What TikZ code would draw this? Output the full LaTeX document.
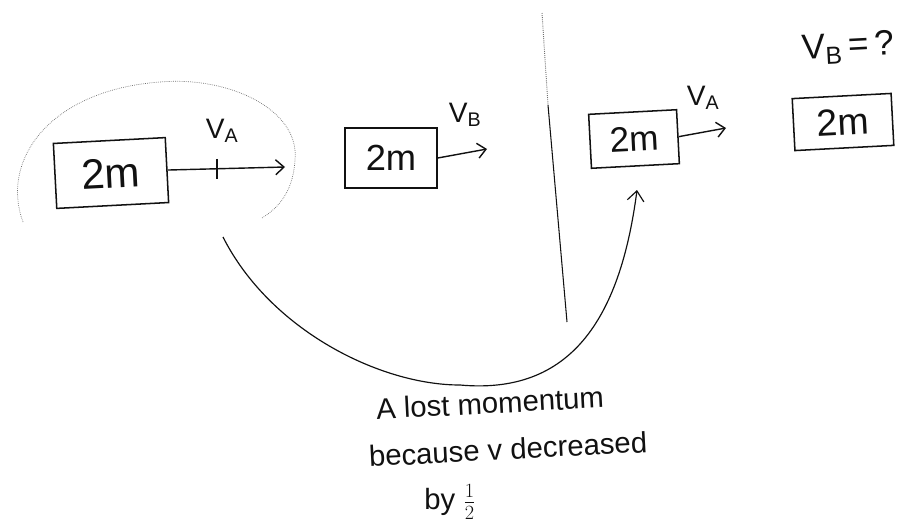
\documentclass[tikz,border=0pt]{standalone}
\usepackage{fontspec}
\setmainfont{Liberation Sans}
\usepackage{xcolor}
\usetikzlibrary{positioning,arrows.meta,calc}
\definecolor{InkDark}{HTML}{111111}
\definecolor{PencilGray}{HTML}{6E6E6E}

\tikzset{
  massbox/.style={draw=InkDark, line width=1.3pt, inner sep=0pt, text=InkDark},
  vel/.style={draw=InkDark, line width=1.2pt, -{Straight Barb[length=2.5mm,width=4.5mm]}},
  veltag/.style={text=InkDark, inner sep=1pt, font=\fontsize{24}{26}\selectfont},
  note/.style={text=InkDark, inner sep=1pt, font=\fontsize{25}{27}\selectfont},
}

\begin{document}
\begin{tikzpicture}[x=0.03cm, y=-0.03cm]
  \useasboundingbox (0,0) rectangle (907,529);

  % before the collision
  \node[massbox, rotate=3, minimum width=3.36cm, minimum height=1.95cm,
        font=\fontsize{36}{40}\selectfont] (boxA) at (111,173) {2m};
  \coordinate (endA) at (285,167);
  \draw[vel] (boxA.east) -- coordinate[pos=0.42] (tickA) (endA);
  \draw[InkDark, line width=1.2pt] ($(tickA)+(0,-10)$) -- ($(tickA)+(0,10)$);
  \node[veltag] (vA) at (222,131) {V\textsubscript{A}};
  \draw[PencilGray, densely dotted, line width=0.6pt]
    (23,222) .. controls (0,160) and (50,90) .. (160,82)
    .. controls (230,76) and (300,110) .. (295,160)
    .. controls (293,195) and (275,210) .. (262,218);

  \node[massbox, minimum width=2.76cm, minimum height=1.8cm,
        font=\fontsize{31}{34}\selectfont] (boxB) at (391,158) {2m};
  \coordinate (endB) at (487,149);
  \draw[vel] (boxB.east) -- (endB);
  \node[veltag] (vB) at (465,115) {V\textsubscript{B}};

  % divider
  \coordinate (divTop) at (542,13);
  \coordinate (divMid) at (548,105);
  \coordinate (divBot) at (567,322);
  \draw[PencilGray, densely dotted, line width=0.8pt] (divTop) -- (divMid);
  \draw[InkDark, line width=0.9pt] (divMid) -- (divBot);

  % after the collision
  \node[massbox, rotate=3, minimum width=2.64cm, minimum height=1.62cm,
        font=\fontsize{30}{34}\selectfont] (boxC) at (634,139) {2m};
  \coordinate (endC) at (726,128);
  \draw[vel] (boxC.east) -- (endC);
  \node[veltag] (vAC) at (703,98) {V\textsubscript{A}};

  \node[massbox, rotate=3, minimum width=2.97cm, minimum height=1.56cm,
        font=\fontsize{32}{36}\selectfont] (boxD) at (843,122) {2m};
  \node[note, rotate=3, font=\fontsize{30}{32}\selectfont] (vBq) at (848,48)
    {V\textsubscript{B}\,=\,?};

  % the loss, before to after
  \coordinate (curveStart) at (223,237);
  \coordinate (curveLow) at (460,385);
  \coordinate (curveEnd) at (637,190);
  \draw[InkDark, line width=1pt, -{Straight Barb[length=3mm,width=5mm]}]
    (curveStart) .. controls (270,330) and (380,385) .. (curveLow)
    .. controls (570,395) and (620,320) .. (curveEnd);

  \node[note, rotate=3] (lost) at (490,403) {A lost momentum};
  \node[note, rotate=3] (because) at (508,449) {because v decreased};
  \node[note] (by) at (450,502) {by $\frac{1}{2}$};
\end{tikzpicture}
\end{document}
